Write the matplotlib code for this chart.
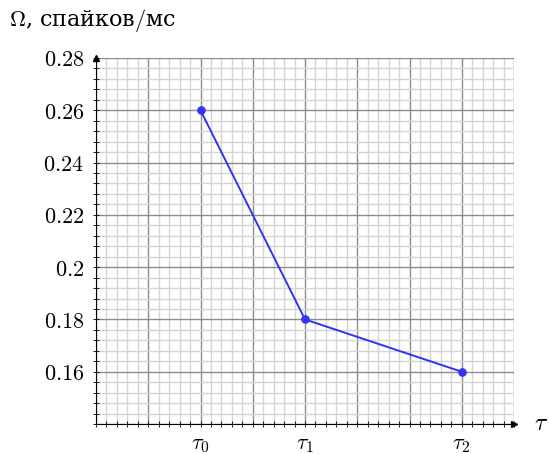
import numpy as np
import matplotlib.pyplot as plt
from matplotlib.ticker import MultipleLocator

plt.rcParams['mathtext.fontset'] = 'cm'
plt.rcParams['font.family'] = ['DejaVu Serif']

# data
tau_pos = [2, 4, 7]
tau_labels = [r'$\tau_0$', r'$\tau_1$', r'$\tau_2$']
omega = [0.26, 0.18, 0.16]
y_ticks = [0.16, 0.18, 0.20, 0.22, 0.24, 0.26, 0.28]
y_labels = ['$0.16$', '$0.18$', '$0.2$', '$0.22$', '$0.24$', '$0.26$', '$0.28$']

fig = plt.figure(figsize=(5.49, 4.54), dpi=100)
ax = fig.add_axes([96/549, 30/454, 418/549, 366/454])

ax.set_xlim(0, 8)
ax.set_ylim(0.14, 0.28)

# grid
ax.xaxis.set_major_locator(MultipleLocator(1))
ax.xaxis.set_minor_locator(MultipleLocator(0.2))
ax.yaxis.set_major_locator(MultipleLocator(0.02))
ax.yaxis.set_minor_locator(MultipleLocator(0.004))
ax.grid(which='minor', color='#d4d4d4', lw=1.0)
ax.grid(which='major', color='#8c8c8c', lw=1.0)
ax.set_axisbelow(True)

xl = [''] * 9
for p, l in zip(tau_pos, tau_labels):
    xl[p] = l
ax.set_xticks(range(9))
ax.set_xticklabels(xl, fontsize=16)
ax.set_yticks([0.14] + y_ticks)
ax.set_yticklabels([''] + y_labels, fontsize=16)

ax.tick_params(which='both', direction='inout', color='black', width=0.6)
ax.tick_params(which='major', length=5, pad=4)
ax.tick_params(axis='y', which='major', pad=6)
ax.tick_params(which='minor', length=4)

for s in ['top', 'right']:
    ax.spines[s].set_visible(False)
for s in ['left', 'bottom']:
    ax.spines[s].set_linewidth(0.8)

# arrow heads
ax.plot(1, 0, '>', color='black', ms=5, transform=ax.transAxes, clip_on=False)
ax.plot(0, 1, '^', color='black', ms=5, transform=ax.transAxes, clip_on=False)

ax.plot(tau_pos, omega, '-o', color='#3333f5', lw=1.4, ms=5.2, zorder=5)

fig.text(9/549, 1 - 20/454, r'$\Omega$, спайков$/$мс', fontsize=16, va='center')
fig.text(534/549, 1 - 424/454, r'$\tau$', fontsize=17, va='center')

fig.savefig('out.png', dpi=100)
